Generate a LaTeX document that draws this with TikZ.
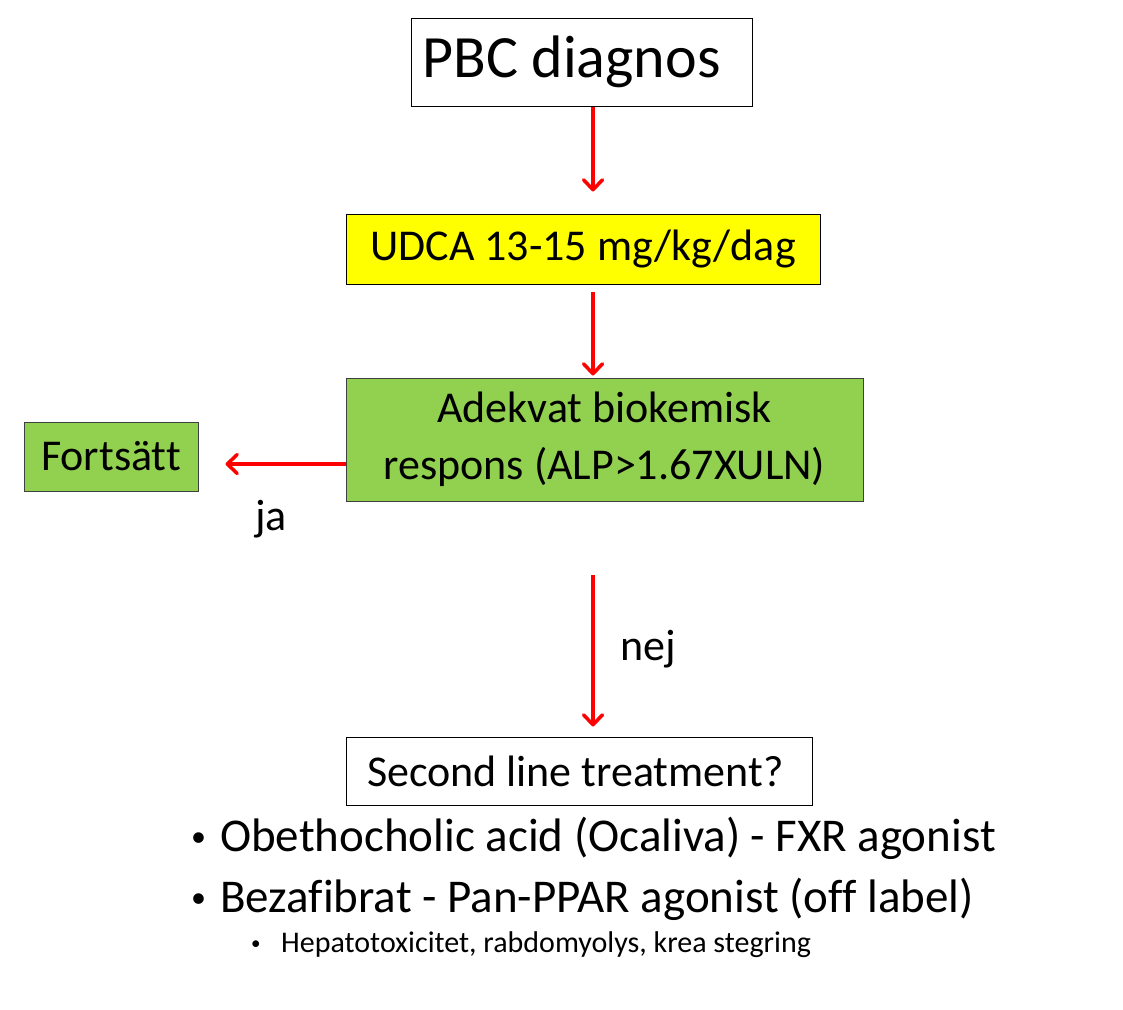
\documentclass[tikz,border=0pt]{standalone}
\usepackage{fontspec}
\setmainfont{Carlito}[Ligatures={NoCommon}]
\usepackage{tikz}
\usetikzlibrary{arrows.meta,positioning}
\definecolor{udcayellow}{HTML}{FFFF00}
\definecolor{okgreen}{HTML}{92D050}
\definecolor{arrowred}{HTML}{FF0000}
\definecolor{edge}{HTML}{404040}
\newcommand{\bigdot}{\raisebox{5pt}{\fontsize{30}{30}\selectfont•}}
\newcommand{\smalldot}{\raisebox{3pt}{\fontsize{19}{19}\selectfont•}}

\begin{document}
\begin{tikzpicture}[
  x=1pt, y=-1pt,
  font=\fontsize{44}{57}\selectfont,
  box/.style={draw=black, line width=1pt, inner sep=0pt, align=center},
  arr/.style={arrowred, line width=3.5pt, -{Straight Barb[length=10pt, width=19pt, line cap=round, line join=round]}},
  item/.style={inner sep=0pt, anchor=base west, font=\fontsize{47}{57}\selectfont},
  lbl/.style={inner sep=0pt, anchor=base west}
]
\useasboundingbox (0,0) rectangle (1123,1009);
\coordinate (ax) at (593,0);
\coordinate (ay) at (0,464);

\node[box, minimum width=341pt, minimum height=88pt, font=\fontsize{60}{72}\selectfont] (pbc) at (581.5,62) {PBC diagnos\,\,};
\node[box, fill=udcayellow, minimum width=474pt, minimum height=70pt] (udca) at (583,249) {UDCA 13-15 mg/kg/dag};
\node[box, draw=edge, fill=okgreen, minimum width=517pt, minimum height=123pt] (resp) at (604.5,439.5) {Adekvat biokemisk\\respons (ALP>1.67XULN)};
\node[box, draw=edge, fill=okgreen, minimum width=174pt, minimum height=69pt] (fort) at (111,456.5) {Fortsätt};
\node[box, minimum width=466pt, minimum height=68pt] (second) at (579,771) {Second line treatment?\,};

\node[lbl] (ja) at (255,530) {ja};
\node[lbl] (nej) at (620,660) {nej};

% behandlingsalternativ
\node[item] (ocaliva) at (191,851) {\makebox[29pt][l]{\bigdot}Obethocholic acid (Ocaliva) - FXR agonist};
\node[item] (beza) at (191,912) {\makebox[29pt][l]{\bigdot}Bezafibrat - Pan-PPAR agonist (off label)};
\node[lbl, font=\fontsize{30}{36}\selectfont] (risk) at (251,952) {\makebox[30pt][l]{\smalldot}Hepatotoxicitet, rabdomyolys, krea stegring};

\draw[arr, shorten >=22pt] (pbc.south -| ax) -- (udca.north -| ax);
\draw[arr, shorten <=7pt, shorten >=2pt] (udca.south -| ax) -- (resp.north -| ax);
\draw[arr, shorten >=27pt] (resp.west |- ay) -- (fort.east |- ay);
\draw[arr, shorten <=73pt, shorten >=10pt] (resp.south -| ax) -- (second.north -| ax);
\end{tikzpicture}
\end{document}
